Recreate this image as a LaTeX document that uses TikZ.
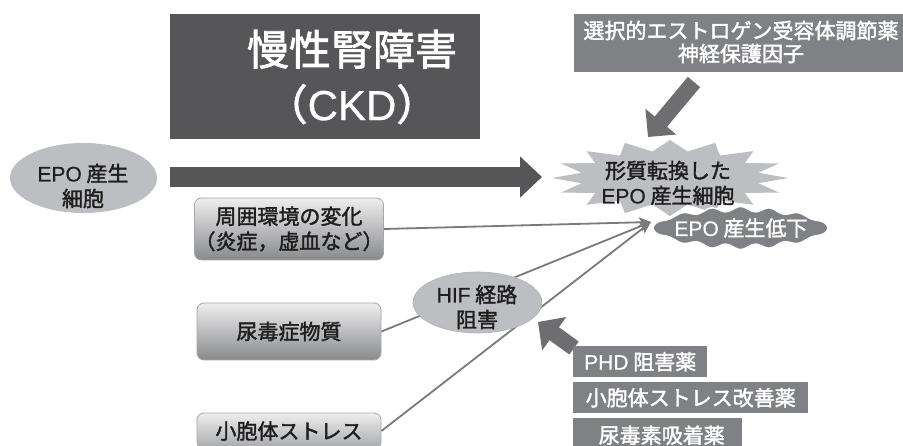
\documentclass[tikz,border=0pt]{standalone}
\usepackage{fontspec}
\setmainfont{Noto Sans CJK JP}[FakeBold=1.8]
\newfontfamily\lat{Liberation Sans}[FakeBold=0.6]
\usetikzlibrary{arrows.meta,shapes.geometric,calc}
\definecolor{darkc}{RGB}{86,86,88}
\definecolor{midc}{RGB}{128,129,132}
\definecolor{arrc}{RGB}{110,110,112}
\definecolor{lightc}{RGB}{189,190,193}
\definecolor{lnc}{RGB}{122,122,125}
\definecolor{boxtop}{RGB}{238,238,239}
\definecolor{boxbot}{RGB}{136,137,139}
\definecolor{inkc}{RGB}{30,30,30}
\begin{document}
\begin{tikzpicture}[x=1pt,y=-1pt,
  txt/.style={font=\fontsize{21}{25}\selectfont, align=center, inner sep=0pt, text=inkc},
  lbox/.style={txt, draw=gray!70, line width=0.8pt, rounded corners=7pt, top color=boxtop, bottom color=boxbot, minimum width=184pt},
  rbox/.style={txt, fill=midc, text=white, minimum height=31pt, anchor=north west},
  conn/.style={draw=lnc, line width=1.8pt, -{Stealth[length=12pt,width=10pt,inset=2.5pt]}},
  fat/.style={draw=arrc, line width=16pt, -{Triangle[length=20pt,width=39pt]}},
  oval/.style={ellipse, inner sep=0pt, fill=lightc, draw=gray!60, line width=0.6pt}]
\useasboundingbox (0,0) rectangle (903,446);
\clip (0,0) rectangle (903,446);
\fill[white] (0,0) rectangle (903,446);

% CKD box
\fill[darkc] (170,14) rectangle (480,139);
\node[txt, text=white, font=\fontsize{42}{55}\selectfont] (ckd) at (352,77) {慢性腎障害\\（{\lat CKD}）};

% top right box
\fill[midc] (574,14) rectangle (910,72);
\node[txt, text=white, font=\fontsize{21}{23}\selectfont] (serm) at (741,42) {選択的エストロゲン受容体調節薬\\神経保護因子};

% EPO cell ellipse
\node[oval, draw=none, minimum width=147pt, minimum height=70pt] (epo) at (83.5,178) {};
\node[txt] (epotxt) at (83,186) {{\lat EPO} 産生\\細胞};

% starburst
\fill[lightc] (788,178) \foreach \k in {1,...,16} {
  -- ($(670,178)+({90*cos(\k*22.5-11.25)},{27*sin(\k*22.5-11.25)})$)
  -- ($(670,178)+({118*cos(\k*22.5)},{38*sin(\k*22.5)})$) } -- cycle;
\node[txt] (burst) at (668,183) {形質転換した\\{\lat EPO} 産生細胞};

% EPO decrease wave
\fill[midc, draw=white, line width=1.5pt] (653,228)
  -- plot[domain=0.5:179.5, samples=120] ({653+0.97222*\x}, {228 - (sin(\x))^0.5*(19+2.5*cos(12*\x))})
  -- (828,228)
  -- plot[domain=180.5:359.5, samples=120] ({653+0.97222*(360-\x)}, {228 + (-sin(\x))^0.5*(19+2.5*cos(12*\x))})
  -- cycle;
\node[txt, text=white] (low) at (741,228) {{\lat EPO} 産生低下};

% left boxes
\node[lbox, minimum height=62pt] (env) at (289,229) {周囲環境の変化\\（炎症，虚血など）};
\node[lbox, minimum height=57pt] (uremic) at (289,331.5) {尿毒症物質};
\node[lbox, minimum height=36pt, bottom color=boxbot!70!boxtop] (er) at (289,431) {小胞体ストレス};

% converging connectors
\coordinate (conv) at (651,222);
\draw[conn] (env.east) -- (conv);
\draw[conn] (uremic.east) -- (conv);
\draw[conn] (er.east) -- (conv);

% HIF ellipse
\node[oval, minimum width=129pt, minimum height=61pt] (hif) at (477.5,302.5) {};
\node[txt] (hiftxt) at (477,307) {{\lat HIF} 経路\\阻害};

% fat arrows
\coordinate (h1) at (170,177);
\coordinate (h2) at (542,177);
\draw[fat, line width=20pt, -{Triangle[length=22pt,width=40pt]}, draw=darkc] (h1) -- (h2);
\coordinate (d1) at (694,82);
\coordinate (d2) at (648,137);
\draw[fat] (d1) -- (d2);
\coordinate (u1) at (574,348);
\coordinate (u2) at (538,322);
\draw[fat, -{Triangle[length=20pt,width=40pt]}] (u1) -- (u2);

% right boxes
\node[rbox, minimum width=134pt] (phd) at (573,346) {{\lat PHD} 阻害薬};
\node[rbox, minimum width=235pt] (erdrug) at (573,382) {小胞体ストレス改善薬};
\node[rbox, minimum width=169pt, minimum height=34pt] (adsorb) at (573,418) {\hspace{8pt}尿毒素吸着薬};
\end{tikzpicture}
\end{document}
